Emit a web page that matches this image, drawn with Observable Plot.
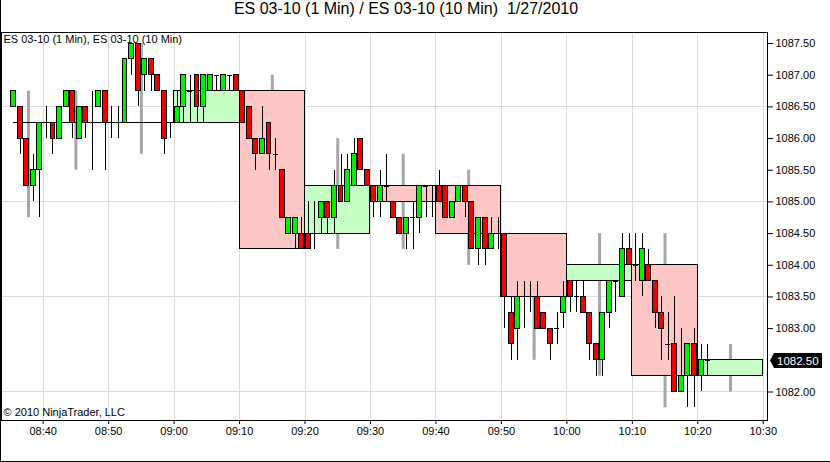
<!DOCTYPE html>
<html><head><meta charset="utf-8">
<script src="https://cdn.jsdelivr.net/npm/d3@7"></script>
<script src="https://cdn.jsdelivr.net/npm/@observablehq/plot@0.6"></script>
<style>
body{margin:0;background:#fff;}
#wrap{position:relative;width:830px;height:462px;overflow:hidden;background:#fff;}
#title{height:28px;line-height:26px;font:16px "Liberation Sans",Arial,sans-serif;text-align:center;padding-right:18px;color:#000;}
#bl{position:absolute;left:0;top:0;width:0;height:462px;border-left:1px solid #000;}
#bb{position:absolute;left:0;top:461px;width:830px;height:0;border-top:1px solid #000;}
</style></head>
<body><div id="wrap"><div id="title">ES 03-10 (1 Min) / ES 03-10 (10 Min)&nbsp; 1/27/2010</div><div id="chart"></div><div id="bl"></div><div id="bb"></div></div>
<script>
// ---- data ----
const chartLabel = "ES 03-10 (1 Min), ES 03-10 (10 Min)";
const copyright = "© 2010 NinjaTrader, LLC";
const timeTicks = ["08:40","08:50","09:00","09:10","09:20","09:30","09:40","09:50","10:00","10:10","10:20","10:30"];
const priceTicks = [1082.0,1082.5,1083.0,1083.5,1084.0,1084.5,1085.0,1085.5,1086.0,1086.5,1087.0,1087.5];
const gridPrices = [1082.0,1083.5,1085.0,1086.5];
const xDomain = ["08:33:38","10:30:39"];
const yDomain = [1081.55, 1087.674];
const lastPrice = 1082.5;
// 1-minute bars: [start, open, high, low, close]
const oneMinBars = [
["08:35",1086.5,1086.75,1086.5,1086.75],
["08:36",1086.5,1086.5,1085.75,1086.0],
["08:37",1086.0,1086.0,1085.25,1085.25],
["08:38",1085.25,1085.75,1085.0,1085.5],
["08:39",1085.5,1086.25,1084.75,1086.25],
["08:40",1086.25,1086.5,1086.0,1086.25],
["08:41",1086.25,1086.25,1085.75,1086.0],
["08:42",1086.0,1086.5,1086.0,1086.5],
["08:43",1086.5,1086.75,1086.5,1086.75],
["08:44",1086.75,1086.75,1086.0,1086.25],
["08:45",1086.0,1086.5,1086.0,1086.5],
["08:46",1086.5,1086.5,1086.0,1086.25],
["08:47",1086.25,1086.75,1085.5,1086.25],
["08:48",1086.5,1086.75,1086.5,1086.75],
["08:49",1086.75,1086.75,1085.5,1086.25],
["08:50",1086.25,1086.5,1086.0,1086.25],
["08:51",1086.25,1086.5,1086.0,1086.25],
["08:52",1086.25,1087.25,1086.25,1087.25],
["08:53",1087.25,1087.5,1087.0,1087.5],
["08:54",1087.5,1087.5,1086.5,1086.75],
["08:55",1087.0,1087.25,1086.75,1087.25],
["08:56",1087.25,1087.25,1086.75,1087.0],
["08:57",1087.0,1087.0,1086.75,1086.75],
["08:58",1086.75,1086.75,1085.75,1086.0],
["08:59",1086.25,1086.25,1086.0,1086.25],
["09:00",1086.25,1086.75,1086.25,1086.5],
["09:01",1086.5,1087.0,1086.25,1087.0],
["09:02",1086.75,1087.0,1086.25,1086.75],
["09:03",1087.0,1087.0,1086.25,1086.5],
["09:04",1086.5,1087.0,1086.25,1087.0],
["09:05",1086.75,1087.0,1086.75,1087.0],
["09:06",1087.0,1087.0,1086.75,1087.0],
["09:07",1086.75,1087.0,1086.75,1087.0],
["09:08",1087.0,1087.0,1086.75,1087.0],
["09:09",1087.0,1087.0,1086.75,1086.75],
["09:10",1086.75,1086.75,1086.25,1086.25],
["09:11",1086.5,1086.5,1086.0,1086.0],
["09:12",1086.0,1086.0,1085.5,1085.75],
["09:13",1085.75,1086.5,1085.75,1086.0],
["09:14",1086.25,1086.25,1085.5,1085.75],
["09:15",1085.75,1086.0,1085.5,1085.75],
["09:16",1085.5,1085.5,1084.75,1084.75],
["09:17",1084.5,1084.75,1084.5,1084.75],
["09:18",1084.5,1084.75,1084.25,1084.75],
["09:19",1084.5,1084.75,1084.25,1084.25],
["09:20",1084.5,1085.0,1084.25,1084.25],
["09:21",1084.5,1085.0,1084.25,1084.5],
["09:22",1084.75,1085.0,1084.5,1085.0],
["09:23",1085.0,1085.0,1084.5,1084.75],
["09:24",1084.75,1085.5,1084.5,1085.25],
["09:25",1085.25,1085.75,1085.0,1085.0],
["09:26",1085.0,1085.75,1085.0,1085.5],
["09:27",1085.25,1086.0,1085.25,1085.75],
["09:28",1086.0,1086.0,1085.5,1085.5],
["09:29",1085.5,1085.5,1085.25,1085.25],
["09:30",1085.25,1085.25,1084.75,1085.0],
["09:31",1085.0,1085.5,1084.75,1085.25],
["09:32",1085.25,1085.75,1085.0,1085.25],
["09:33",1085.0,1085.0,1084.75,1084.75],
["09:34",1084.75,1084.75,1084.5,1084.5],
["09:35",1084.5,1084.75,1084.25,1084.75],
["09:36",1084.75,1085.0,1084.25,1084.75],
["09:37",1084.75,1085.25,1084.5,1085.25],
["09:38",1085.25,1085.25,1084.75,1085.25],
["09:39",1085.0,1085.25,1084.75,1085.0],
["09:40",1085.25,1085.5,1085.0,1085.0],
["09:41",1085.25,1085.25,1084.75,1084.75],
["09:42",1084.75,1085.0,1084.75,1085.0],
["09:43",1085.0,1085.25,1085.0,1085.25],
["09:44",1085.25,1085.25,1084.75,1085.0],
["09:45",1085.0,1085.0,1084.25,1084.25],
["09:46",1084.25,1084.75,1084.0,1084.75],
["09:47",1084.75,1084.75,1084.0,1084.25],
["09:48",1084.25,1084.75,1084.25,1084.5],
["09:49",1084.5,1084.75,1084.25,1084.5],
["09:50",1084.5,1084.5,1083.0,1083.5],
["09:51",1083.25,1083.5,1082.5,1082.75],
["09:52",1083.0,1083.75,1082.5,1083.5],
["09:53",1083.5,1083.75,1083.0,1083.5],
["09:54",1083.5,1083.75,1083.25,1083.5],
["09:55",1083.5,1083.75,1083.0,1083.0],
["09:56",1083.25,1083.25,1083.0,1083.0],
["09:57",1083.0,1083.0,1082.5,1082.75],
["09:58",1083.0,1083.25,1082.75,1083.0],
["09:59",1083.25,1083.75,1083.0,1083.5],
["10:00",1083.75,1083.75,1083.25,1083.5],
["10:01",1083.5,1083.75,1083.25,1083.5],
["10:02",1083.5,1083.75,1083.25,1083.25],
["10:03",1083.25,1083.25,1082.5,1082.75],
["10:04",1082.75,1082.75,1082.25,1082.5],
["10:05",1082.5,1083.25,1082.25,1083.25],
["10:06",1083.25,1083.75,1083.0,1083.75],
["10:07",1083.75,1083.75,1083.25,1083.75],
["10:08",1083.5,1084.5,1083.5,1084.25],
["10:09",1084.25,1084.5,1084.0,1084.0],
["10:10",1084.0,1084.5,1083.75,1084.0],
["10:11",1083.75,1084.5,1083.5,1084.25],
["10:12",1084.0,1084.25,1083.75,1083.75],
["10:13",1083.75,1083.75,1083.0,1083.25],
["10:14",1083.25,1083.5,1082.5,1083.0],
["10:15",1082.75,1083.25,1082.5,1082.75],
["10:16",1082.75,1083.5,1082.0,1082.0],
["10:17",1082.0,1083.0,1082.0,1082.25],
["10:18",1082.25,1082.75,1081.75,1082.75],
["10:19",1082.75,1083.0,1081.75,1082.25],
["10:20",1082.25,1082.75,1082.0,1082.5],
["10:21",1082.5,1082.75,1082.25,1082.5]
];
// 10-minute bars: [start, end, open, high, low, close]
const tenMinBars = [
["08:35:30","08:40",1086.25,1086.75,1084.75,1086.25],
["08:40","08:50",1086.25,1086.75,1085.5,1086.25],
["08:50","09:00",1086.25,1087.5,1085.75,1086.25],
["09:00","09:10",1086.25,1087.0,1086.25,1086.75],
["09:10","09:20",1086.75,1087.0,1084.25,1084.25],
["09:20","09:30",1084.5,1086.0,1084.25,1085.25],
["09:30","09:40",1085.25,1085.75,1084.25,1085.0],
["09:40","09:50",1085.25,1085.5,1084.0,1084.5],
["09:50","10:00",1084.5,1084.5,1082.5,1083.5],
["10:00","10:10",1083.75,1084.5,1082.25,1084.0],
["10:10","10:20",1084.0,1084.5,1081.75,1082.25],
["10:20","10:30",1082.25,1082.75,1082.0,1082.5]
];
// ---- build ----
const T = s => new Date(`2010-01-27T${s.length === 5 ? s + ":00" : s}Z`);
const one = oneMinBars.map(([t,o,h,l,c]) => {const s = T(t); return {s, e: new Date(+s + 60000), m: new Date(+s + 30000), o, h, l, c};});
const ten = tenMinBars.map(([a,b,o,h,l,c]) => {const s = T(a), e = T(b); return {s, e, m: new Date((+s + +e) / 2), o, h, l, c};});
const crisp = {shapeRendering: "crispEdges"};
const badge = (index, scales, values, dims) => {
  const y = Math.round(scales.y(lastPrice)) + 0.5;
  const x0 = dims.width - dims.marginRight;
  const g = d3.create("svg:g");
  g.append("path").attr("d", `M${x0+3},${y} L${x0+7},${y-7.5} H${x0+55} V${y+7.5} H${x0+7} Z`).attr("fill", "black");
  g.append("text").attr("x", x0 + 10).attr("y", y).attr("dy", "0.36em").attr("fill", "white")
    .attr("text-anchor", "start").attr("font-size", 11.5).text(lastPrice.toFixed(2));
  return g.node();
};
const plot = Plot.plot({
  width: 830, height: 434,
  marginTop: 4, marginBottom: 42, marginLeft: 1, marginRight: 63,
  style: {fontFamily: "'Liberation Sans', Arial, sans-serif", fontSize: "11px", background: "white", color: "black"},
  x: {type: "utc", domain: xDomain.map(T), ticks: timeTicks.map(T), tickFormat: d3.utcFormat("%H:%M"), tickSize: 4, tickPadding: 3, label: null},
  y: {domain: yDomain, axis: "right", ticks: priceTicks.filter(p => p !== lastPrice), tickFormat: d => d.toFixed(2), tickSize: 5, tickPadding: 3, label: null},
  marks: [
    Plot.ruleX(timeTicks.map(T), {stroke: "#dcdcdc", ...crisp}),
    Plot.ruleY(gridPrices, {stroke: "#dcdcdc", ...crisp}),
    Plot.ruleX(ten, {x: "m", y1: "l", y2: "h", stroke: "#a6a6a6", strokeWidth: 3}),
    Plot.rect(ten.filter(d => d.c > d.o), {x1: "s", x2: "e", y1: "o", y2: "c", fill: "#c6ffc6", stroke: "black", ...crisp}),
    Plot.rect(ten.filter(d => d.c < d.o), {x1: "s", x2: "e", y1: "o", y2: "c", fill: "#ffc6c6", stroke: "black", ...crisp}),
    Plot.ruleY(ten.filter(d => d.c === d.o), {y: "o", x1: "s", x2: "e", stroke: "black", ...crisp}),
    Plot.ruleX(one, {x: "m", y1: "l", y2: "h", stroke: "black", ...crisp}),
    Plot.rect(one.filter(d => d.c > d.o), {x1: "s", x2: "e", y1: "o", y2: "c", insetLeft: 0.8, insetRight: 0.8, fill: "#00f000", stroke: "black", ...crisp}),
    Plot.rect(one.filter(d => d.c < d.o), {x1: "s", x2: "e", y1: "o", y2: "c", insetLeft: 0.8, insetRight: 0.8, fill: "#f00000", stroke: "black", ...crisp}),
    Plot.ruleY(one.filter(d => d.c === d.o), {y: "o", x1: "s", x2: "e", insetLeft: 0.8, insetRight: 0.8, stroke: "black", ...crisp}),
    Plot.text([chartLabel], {text: d => d, frameAnchor: "top-left", textAnchor: "start", dx: 2, dy: 3, fontSize: 11}),
    Plot.text([copyright], {text: d => d, frameAnchor: "bottom-left", textAnchor: "start", dx: 2, dy: -5, fontSize: 11}),
    Plot.frame({stroke: "black", ...crisp}),
    badge
  ]
});
document.getElementById("chart").appendChild(plot);
</script>
</body></html>
